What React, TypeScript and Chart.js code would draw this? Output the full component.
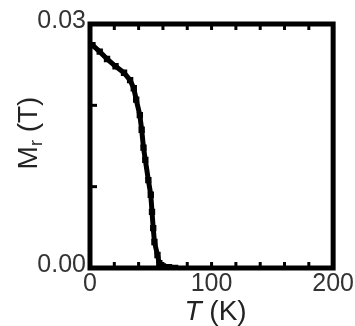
import React, { useEffect, useRef } from "react";
import { Chart, registerables } from "chart.js";

Chart.register(...registerables);

// Temperature (K) and remanent magnetization M_r (T)
const temperatureK = [2, 8, 14, 21, 28, 33, 36, 38, 41, 42.5, 44, 45.5, 48, 50, 51, 52, 53, 55.5, 57, 60, 65, 70];
const remanenceT = [
  0.0274, 0.0266, 0.0257, 0.0248, 0.024, 0.0231, 0.0221, 0.0207, 0.0188, 0.017, 0.0148,
  0.0133, 0.0108, 0.009, 0.0069, 0.0049, 0.0032, 0.0016, 0.0006, 0.0002, 0.0001, 0.0,
];

const xLabeledTicks = [0, 100, 200];
const yLabeledTicks = [0, 0.03];
const xTitleItalic = "T";
const xTitleRest = " (K)";
const yTitleMain = "M";
const yTitleSub = "r";
const yTitleRest = " (T)";

const FONT = "'Liberation Sans', Arial, sans-serif";

const frame = {
  id: "frame",
  afterDraw(chart: any) {
    const { ctx, chartArea } = chart;
    const { left, right, top, bottom } = chartArea;
    const xs = chart.scales.x;
    const ys = chart.scales.y;
    ctx.save();
    ctx.strokeStyle = "#000";
    ctx.fillStyle = "#000";
    // inward ticks
    ctx.lineWidth = 3;
    xs.ticks.forEach((t: any) => {
      if (t.value <= xs.min || t.value >= xs.max) return;
      const px = xs.getPixelForValue(t.value);
      ctx.beginPath();
      ctx.moveTo(px, bottom);
      ctx.lineTo(px, bottom - 6);
      ctx.moveTo(px, top);
      ctx.lineTo(px, top + 6);
      ctx.stroke();
    });
    ys.ticks.forEach((t: any) => {
      if (t.value <= ys.min + 1e-9 || t.value >= ys.max - 1e-9) return;
      const py = ys.getPixelForValue(t.value);
      ctx.beginPath();
      ctx.moveTo(left, py);
      ctx.lineTo(left + 7, py);
      ctx.stroke();
    });
    // thick frame
    ctx.lineWidth = 5;
    ctx.strokeRect(left, top, right - left, bottom - top);

    // x title
    ctx.fillStyle = "#222";
    ctx.textBaseline = "middle";
    ctx.font = `italic 28px ${FONT}`;
    const wI = ctx.measureText(xTitleItalic).width;
    ctx.font = `28px ${FONT}`;
    const wR = ctx.measureText(xTitleRest).width;
    const cx = (left + right) / 2 + 4;
    const cy = 312;
    const sx = cx - (wI + wR) / 2;
    ctx.textAlign = "left";
    ctx.font = `italic 28px ${FONT}`;
    ctx.fillText(xTitleItalic, sx, cy);
    ctx.font = `28px ${FONT}`;
    ctx.fillText(xTitleRest, sx + wI, cy);

    // y title (rotated with subscript)
    ctx.translate(29, 133);
    ctx.rotate(-Math.PI / 2);
    ctx.font = `28px ${FONT}`;
    const wM = ctx.measureText(yTitleMain).width;
    const wT = ctx.measureText(yTitleRest).width;
    ctx.font = `18px ${FONT}`;
    const wS = ctx.measureText(yTitleSub).width;
    const x0 = -(wM + wS + wT) / 2;
    ctx.font = `28px ${FONT}`;
    ctx.fillText(yTitleMain, x0, 0);
    ctx.font = `18px ${FONT}`;
    ctx.fillText(yTitleSub, x0 + wM, 8);
    ctx.font = `28px ${FONT}`;
    ctx.fillText(yTitleRest, x0 + wM + wS, 0);
    ctx.restore();
  },
};

export default function App() {
  const ref = useRef<HTMLCanvasElement | null>(null);
  useEffect(() => {
    if (!ref.current) return;
    const chart = new Chart(ref.current, {
      type: "line",
      data: {
        datasets: [
          {
            data: temperatureK.map((t, i) => ({ x: t, y: remanenceT[i] })),
            borderColor: "#000",
            backgroundColor: "#000",
            borderWidth: 5,
            pointStyle: "rect",
            pointRadius: 4.5,
            pointBorderWidth: 0,
            tension: 0,
          },
        ],
      },
      options: {
        responsive: false,
        animation: false,
        layout: { padding: { top: 24, right: 21, left: 0, bottom: 0 } },
        plugins: { legend: { display: false }, tooltip: { enabled: false } },
        scales: {
          x: {
            type: "linear",
            min: 0,
            max: 200,
            grid: { display: false, drawTicks: false },
            border: { display: false },
            afterFit: (s: any) => {
              s.height = 58;
            },
            ticks: {
              stepSize: 20,
              autoSkip: false,
              maxRotation: 0,
              padding: 1,
              color: "#333",
              font: { family: FONT, size: 25 },
              callback: (v: any) => (xLabeledTicks.includes(Number(v)) ? String(v) : ""),
            },
          },
          y: {
            type: "linear",
            min: 0,
            max: 0.03,
            grid: { display: false, drawTicks: false },
            border: { display: false },
            afterFit: (s: any) => {
              s.width = 90;
            },
            ticks: {
              stepSize: 0.01,
              padding: 4,
              labelOffset: -3,
              color: "#333",
              font: { family: FONT, size: 25 },
              callback: (v: any) =>
                yLabeledTicks.some((t) => Math.abs(t - Number(v)) < 1e-9) ? Number(v).toFixed(2) : "",
            },
          },
        },
      },
      plugins: [frame],
    });
    return () => chart.destroy();
  }, []);
  return (
    <div style={{ position: "fixed", left: 0, top: 0, width: 355, height: 326, background: "#fff" }}>
      <canvas ref={ref} width={355} height={326} />
    </div>
  );
}
